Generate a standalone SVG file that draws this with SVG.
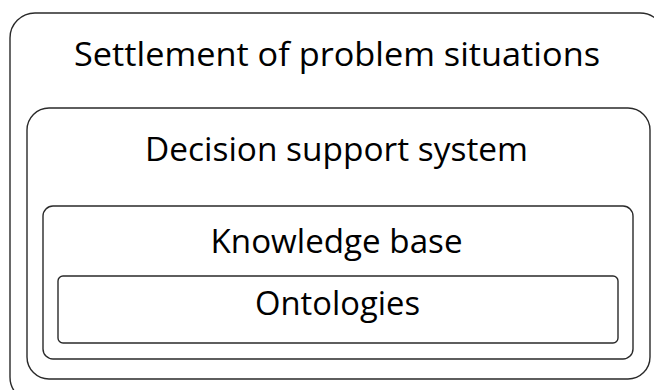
<svg xmlns="http://www.w3.org/2000/svg" width="654" height="390" viewBox="0 0 654 390">
<style>
.box{fill:none;stroke:#2a2a2a;stroke-width:1.4}
.lbl{font-family:"Open Sans","Noto Sans","DejaVu Sans",sans-serif;font-size:32px;fill:#000;text-anchor:middle}
</style>
<rect width="654" height="390" fill="#fff"/>
<g id="settlement">
<rect class="box" x="10" y="13" width="655" height="389" rx="25"/>
<text class="lbl" x="337" y="66" textLength="526" lengthAdjust="spacingAndGlyphs">Settlement of problem situations</text>
</g>
<g id="dss">
<rect class="box" x="27" y="108" width="623" height="271" rx="22"/>
<text class="lbl" x="336.5" y="161" textLength="383" lengthAdjust="spacingAndGlyphs">Decision support system</text>
</g>
<g id="kb">
<rect class="box" x="43" y="206" width="590" height="153" rx="10"/>
<text class="lbl" x="336.5" y="253" textLength="252" lengthAdjust="spacingAndGlyphs">Knowledge base</text>
</g>
<g id="ontologies">
<rect class="box" x="58" y="276" width="560" height="67" rx="5"/>
<text class="lbl" x="337.5" y="315" textLength="165" lengthAdjust="spacingAndGlyphs">Ontologies</text>
</g>
<g id="connectors"/>
</svg>
